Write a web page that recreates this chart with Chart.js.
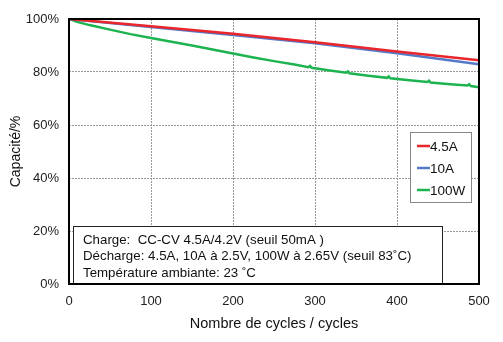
<!DOCTYPE html>
<html lang="fr">
<head>
  <meta charset="UTF-8" />
  <title>Capacité / cycles</title>
  <script src="https://cdn.jsdelivr.net/npm/chart.js"></script>
  <style>
    body { margin: 0; background: #fff; }
  </style>
</head>
<body>
  <canvas id="cycleChart" width="503" height="342"></canvas>

  <script>
    // data
    const seriesLabels = ["4.5A", "10A", "100W"];
    const seriesColors = ["#e8262b", "#5479c9", "#1db350"];

    const redCycles = [0, 100, 200, 300, 400, 500];
    const redCap = [100, 97.3, 94.4, 91.2, 87.7, 84.4];

    const blueCycles = [0, 100, 200, 300, 400, 500];
    const blueCap = [100, 97.0, 94.0, 90.8, 87.1, 82.9];

    // small upward blips after rest periods around 294, 340, 390, 439, 488
    const greenCycles = [0, 10, 25, 50, 75, 100, 125, 150, 175, 200, 225, 250, 275, 292, 294, 296, 318, 338, 340, 342, 365, 388, 390, 392, 415, 437, 439, 441, 465, 486, 488, 490, 500];
    const greenCap = [100, 98.9, 97.7, 96.0, 94.3, 92.8, 91.4, 90.0, 88.5, 87.0, 85.5, 84.1, 82.8, 81.8, 82.3, 81.6, 80.6, 79.7, 80.2, 79.5, 78.6, 77.8, 78.3, 77.6, 76.9, 76.2, 76.7, 76.0, 75.4, 74.9, 75.4, 74.7, 74.2];

    const xTicks = [0, 100, 200, 300, 400, 500];
    const yTicks = [0, 20, 40, 60, 80, 100];

    const noteLines = [
      "Charge:  CC-CV 4.5A/4.2V (seuil 50mA )",
      "Décharge: 4.5A, 10A à 2.5V, 100W à 2.65V (seuil 83˚C)",
      "Température ambiante: 23 ˚C"
    ];

    const toPoints = (xs, ys) => xs.map((x, i) => ({ x, y: ys[i] }));

    const FONT = "'Liberation Sans', Arial, sans-serif";

    // frame, note box and legend box drawn on the canvas
    const extras = {
      id: "extras",
      afterDatasetsDraw(chart) {
        const ctx = chart.ctx;
        const { left, right, top, bottom } = chart.chartArea;

        // note box
        ctx.save();
        ctx.fillStyle = "#fff";
        ctx.fillRect(73, 226, 369, 57);
        ctx.strokeStyle = "#222";
        ctx.lineWidth = 1;
        ctx.strokeRect(73.5, 226.5, 369, 57);
        ctx.fillStyle = "#111";
        ctx.font = "13.3px " + FONT;
        ctx.textBaseline = "middle";
        noteLines.forEach((t, i) => ctx.fillText(t, 83, 240 + i * 16.5));

        // legend box
        ctx.fillStyle = "#fff";
        ctx.fillRect(410, 132, 61, 70);
        ctx.strokeStyle = "#888";
        ctx.strokeRect(410.5, 132.5, 61, 70);
        ctx.font = "13.5px " + FONT;
        chart.data.datasets.forEach((ds, i) => {
          const y = 146 + i * 22;
          ctx.strokeStyle = ds.borderColor;
          ctx.lineWidth = 2.5;
          ctx.beginPath();
          ctx.moveTo(417, y);
          ctx.lineTo(430, y);
          ctx.stroke();
          ctx.fillStyle = "#111";
          ctx.fillText(ds.label, 430, y + 1);
        });

        // plot frame
        ctx.strokeStyle = "#000";
        ctx.lineWidth = 2;
        ctx.strokeRect(left, top, right - left, bottom - top);
        ctx.restore();
      }
    };

    new Chart(document.getElementById("cycleChart"), {
      type: "line",
      data: {
        datasets: [
          { label: seriesLabels[0], data: toPoints(redCycles, redCap), borderColor: seriesColors[0] },
          { label: seriesLabels[1], data: toPoints(blueCycles, blueCap), borderColor: seriesColors[1] },
          { label: seriesLabels[2], data: toPoints(greenCycles, greenCap), borderColor: seriesColors[2] }
        ].map(d => Object.assign(d, { borderWidth: 2.5, pointRadius: 0, tension: 0, fill: false }))
      },
      options: {
        responsive: false,
        animation: false,
        layout: { padding: { top: 19, right: 24, left: 0, bottom: 0 } },
        plugins: {
          legend: { display: false },
          tooltip: { enabled: false }
        },
        scales: {
          x: {
            type: "linear",
            min: 0,
            max: 500,
            afterBuildTicks: s => { s.ticks = xTicks.map(v => ({ value: v })); },
            afterFit: s => { s.height = 58; },
            grid: { color: "#9a9a9a", lineWidth: 1, drawTicks: false },
            border: { display: false, dash: [2, 1] },
            ticks: { color: "#222", padding: 10, maxRotation: 0, font: { family: FONT, size: 13 } },
            title: {
              display: true,
              text: "Nombre de cycles / cycles",
              color: "#111",
              padding: { top: 0, bottom: 9 },
              font: { family: FONT, size: 14.5 }
            }
          },
          y: {
            min: 0,
            max: 100,
            afterBuildTicks: s => { s.ticks = yTicks.map(v => ({ value: v })); },
            afterFit: s => { s.width = 69; },
            grid: { color: "#9a9a9a", lineWidth: 1, drawTicks: false },
            border: { display: false, dash: [2, 1] },
            ticks: { color: "#222", padding: 10, callback: v => v + "%", font: { family: FONT, size: 13 } },
            title: {
              display: true,
              text: "Capacité/%",
              color: "#111",
              padding: { top: 8, bottom: 0 },
              font: { family: FONT, size: 14 }
            }
          }
        }
      },
      plugins: [extras]
    });
  </script>
</body>
</html>
